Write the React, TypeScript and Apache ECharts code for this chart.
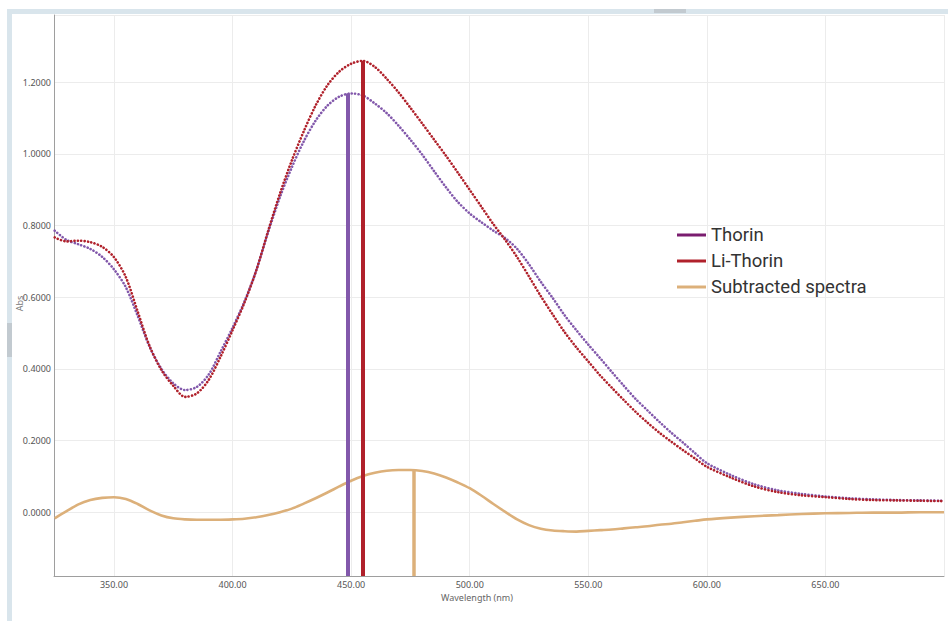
import React, { useEffect, useRef } from "react";
import * as echarts from "echarts";

// Wavelength grid (nm)
const wavelength = [
  325, 330, 335, 340, 345, 350, 355, 360, 365, 370, 375, 380, 385, 390, 395,
  400, 405, 410, 415, 420, 425, 430, 435, 440, 445, 450, 455, 460, 465, 470,
  475, 480, 485, 490, 495, 500, 505, 510, 515, 520, 525, 530, 535, 540, 545,
  550, 555, 560, 565, 570, 575, 580, 585, 590, 595, 600, 610, 620, 630, 640,
  650, 660, 670, 680, 690, 700,
];

const thorin = [
  0.786, 0.76, 0.748, 0.735, 0.713, 0.678, 0.628, 0.548, 0.462, 0.4, 0.36, 0.341, 0.35, 0.385, 0.449,
  0.515, 0.588, 0.675, 0.782, 0.88, 0.963, 1.035, 1.093, 1.135, 1.16, 1.169, 1.163, 1.141, 1.114, 1.079,
  1.04, 0.998, 0.952, 0.907, 0.866, 0.834, 0.809, 0.786, 0.765, 0.735, 0.692, 0.643, 0.598, 0.55, 0.508,
  0.468, 0.43, 0.391, 0.353, 0.316, 0.284, 0.252, 0.222, 0.194, 0.165, 0.137, 0.104, 0.078, 0.061, 0.051,
  0.044, 0.039, 0.036, 0.034, 0.033, 0.032,
];

const liThorin = [
  0.767, 0.756, 0.758, 0.754, 0.741, 0.712, 0.656, 0.56, 0.464, 0.397, 0.353, 0.322, 0.332, 0.37, 0.435,
  0.508, 0.585, 0.675, 0.785, 0.89, 0.982, 1.063, 1.135, 1.192, 1.23, 1.252, 1.26, 1.243, 1.21, 1.172,
  1.129, 1.085, 1.04, 0.995, 0.948, 0.9, 0.852, 0.804, 0.76, 0.712, 0.658, 0.603, 0.552, 0.503, 0.46,
  0.421, 0.382, 0.347, 0.313, 0.28, 0.25, 0.222, 0.197, 0.173, 0.15, 0.127, 0.097, 0.072, 0.056, 0.047,
  0.042, 0.037, 0.034, 0.033, 0.032, 0.031,
];

const subtracted = [
  -0.017, 0.003, 0.022, 0.034, 0.04, 0.042, 0.037, 0.023, 0.005, -0.009, -0.017, -0.02, -0.021, -0.021, -0.021,
  -0.02, -0.018, -0.014, -0.008, 0.0, 0.01, 0.024, 0.039, 0.055, 0.072, 0.088, 0.101, 0.11, 0.116, 0.118,
  0.118, 0.115, 0.108, 0.097, 0.083, 0.067, 0.046, 0.023, 0.001, -0.02, -0.036, -0.046, -0.051, -0.053, -0.054,
  -0.052, -0.05, -0.048, -0.045, -0.042, -0.039, -0.035, -0.032, -0.028, -0.024, -0.02, -0.015, -0.011, -0.008, -0.005,
  -0.003, -0.002, -0.001, -0.001, 0.0, 0.0,
];

const seriesNames = ["Thorin", "Li-Thorin", "Subtracted spectra"];
const peakWavelength = [448.7, 454.8, 476.3];
const peakAbs = [1.169, 1.26, 0.118];

const X_MIN = 324.7;
const X_MAX = 700;
const Y_MIN = -0.178;
const Y_MAX = 1.388;

const lineColors = ["#8258ab", "#b0212b", "#dcb07a"];
const legendColors = ["#7a1d6f", "#b0212b", "#dcb07a"];

export default function App() {
  const ref = useRef<HTMLDivElement>(null);

  useEffect(() => {
    if (!ref.current) return;
    const chart = echarts.init(ref.current, null, { renderer: "svg" });
    const values = [thorin, liThorin, subtracted];

    const series = seriesNames.map((name, i) => {
      const dotted = i < 2;
      return {
        name,
        type: "line",
        data: wavelength.map((w, j) => [w, values[i][j]]),
        showSymbol: false,
        symbol: "none",
        smooth: 0.3,
        silent: true,
        z: 2 + i,
        emphasis: { disabled: true },
        lineStyle: dotted
          ? { color: lineColors[i], width: 2.6, type: [0.1, 3.3], cap: "round" }
          : { color: lineColors[i], width: 2.6, type: "solid" },
        itemStyle: { color: lineColors[i] },
        markLine: {
          silent: true,
          symbol: ["none", "none"],
          label: { show: false },
          emphasis: { disabled: true },
          lineStyle: { color: lineColors[i], width: i < 2 ? 4 : 3.5, type: "solid" },
          data: [
            [
              { coord: [peakWavelength[i], Y_MIN] },
              { coord: [peakWavelength[i], peakAbs[i]] },
            ],
          ],
        },
      };
    });

    const labelStyle = {
      color: "#555",
      fontSize: 9,
      fontFamily: "Noto Sans",
    };

    chart.setOption({
      animation: false,
      backgroundColor: "#ffffff",
      grid: {
        left: 54,
        top: 15,
        width: 890,
        height: 561,
        containLabel: false,
        outerBoundsMode: "none",
      },
      legend: {
        orient: "vertical",
        left: 677,
        top: 225,
        padding: 0,
        itemWidth: 29,
        itemHeight: 3,
        itemGap: 6,
        icon: "rect",
        selectedMode: false,
        textStyle: {
          color: "#333",
          fontSize: 18.5,
          fontFamily: "Roboto",
          lineHeight: 20,
        },
        data: seriesNames.map((n, i) => ({
          name: n,
          itemStyle: { color: legendColors[i] },
        })),
      },
      xAxis: {
        type: "value",
        min: X_MIN,
        max: X_MAX,
        splitNumber: 8,
        name: "Wavelength (nm)",
        nameLocation: "middle",
        nameGap: 17,
        nameMoveOverlap: false,
        nameTextStyle: {
          color: "#666",
          fontSize: 9,
          fontFamily: "Noto Sans",
          padding: [0, 44, 0, 0],
        },
        axisLine: { onZero: false, lineStyle: { color: "#9e9e9e", width: 1 } },
        axisTick: { show: false },
        axisLabel: {
          ...labelStyle,
          margin: 4,
          showMinLabel: false,
          showMaxLabel: false,
          formatter: (v: number) => (Math.abs(v % 50) < 1e-6 ? v.toFixed(2) : ""),
        },
        splitLine: { show: true, lineStyle: { color: "#ececec", width: 1 } },
      },
      yAxis: {
        type: "value",
        min: Y_MIN,
        max: Y_MAX,
        splitNumber: 8,
        name: "Abs",
        nameLocation: "middle",
        nameGap: 30,
        nameMoveOverlap: false,
        nameTextStyle: {
          color: "#777",
          fontSize: 9,
          fontFamily: "Noto Sans",
          padding: [0, 16, 0, 0],
        },
        axisLine: { show: true, onZero: false, lineStyle: { color: "#9e9e9e", width: 1 } },
        axisTick: { show: false },
        axisLabel: {
          ...labelStyle,
          margin: 3,
          showMinLabel: false,
          showMaxLabel: false,
          formatter: (v: number) =>
            Math.abs(Math.round(v * 10) - v * 10) < 1e-6 ? v.toFixed(4) : "",
        },
        splitLine: { show: true, lineStyle: { color: "#ececec", width: 1 } },
      },
      graphic: [
        {
          type: "rect",
          silent: true,
          z: 100,
          shape: { x: 7, y: 9, width: 941, height: 5 },
          style: { fill: "#d9e5ec" },
        },
        {
          type: "rect",
          silent: true,
          z: 100,
          shape: { x: 7, y: 9, width: 5, height: 612 },
          style: { fill: "#d9e5ec" },
        },
        {
          type: "rect",
          silent: true,
          z: 101,
          shape: { x: 654, y: 9, width: 32, height: 4 },
          style: { fill: "#c2cad0" },
        },
        {
          type: "rect",
          silent: true,
          z: 101,
          shape: { x: 7, y: 323, width: 5, height: 34 },
          style: { fill: "#c2cad0" },
        },
      ],
      series,
    });

    return () => chart.dispose();
  }, []);

  return (
    <div
      ref={ref}
      style={{
        position: "absolute",
        left: 0,
        top: 0,
        width: 948,
        height: 621,
        background: "#fff",
      }}
    />
  );
}
